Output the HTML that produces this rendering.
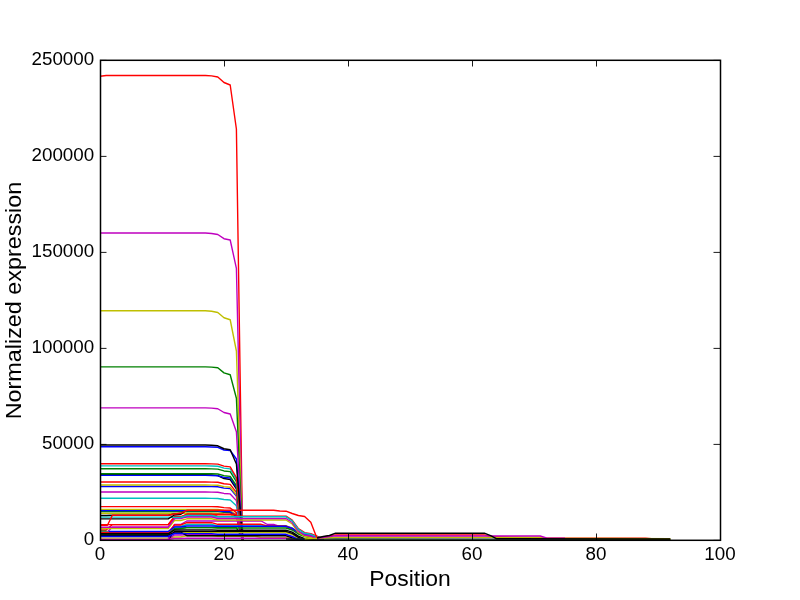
<!DOCTYPE html>
<html><head><meta charset="utf-8"><style>
html,body{margin:0;padding:0;background:#fff;width:800px;height:600px;overflow:hidden}
svg{display:block;will-change:transform}
text{font-family:"Liberation Sans",sans-serif;fill:#000}
</style></head><body>
<svg width="800" height="600" viewBox="0 0 800 600">
<rect width="800" height="600" fill="#fff"/>
<g clip-path="url(#c)">
<clipPath id="c"><rect x="100" y="60" width="620" height="480"/></clipPath>
<polyline points="100.00,474.60 205.40,474.60 211.60,474.89 217.80,475.58 224.00,478.52 230.20,479.50 236.40,488.99 242.60,539.50" stroke="#000000" stroke-width="1.39" fill="none" stroke-linejoin="round"/>
<polyline points="100.00,513.20 205.40,513.20 211.60,513.24 217.80,513.33 224.00,514.00 230.20,514.27 236.40,518.02 242.60,539.50" stroke="#bfbf00" stroke-width="1.39" fill="none" stroke-linejoin="round"/>
<polyline points="100.00,511.50 205.40,511.50 211.60,511.54 217.80,511.64 224.00,512.36 230.20,512.64 236.40,516.63 242.60,539.50" stroke="#008000" stroke-width="1.39" fill="none" stroke-linejoin="round"/>
<polyline points="100.00,509.40 205.40,509.40 211.60,509.45 217.80,509.55 224.00,510.32 230.20,510.62 236.40,514.91 242.60,539.50" stroke="#bfbf00" stroke-width="1.39" fill="none" stroke-linejoin="round"/>
<polyline points="100.00,510.60 205.40,510.60 211.60,510.64 217.80,510.75 224.00,511.48 230.20,511.78 236.40,515.89 242.60,539.50" stroke="#0000ff" stroke-width="1.39" fill="none" stroke-linejoin="round"/>
<polyline points="100.00,506.60 205.40,506.60 211.60,506.65 217.80,506.77 224.00,507.60 230.20,507.94 236.40,512.61 242.60,539.50" stroke="#ff0000" stroke-width="1.39" fill="none" stroke-linejoin="round"/>
<polyline points="100.00,498.30 205.40,498.30 211.60,498.36 217.80,498.51 224.00,499.55 230.20,499.97 236.40,505.81 242.60,539.50" stroke="#00bfbf" stroke-width="1.39" fill="none" stroke-linejoin="round"/>
<polyline points="100.00,492.00 205.40,492.00 211.60,492.07 217.80,492.24 224.00,493.44 230.20,493.92 236.40,500.64 242.60,539.50" stroke="#bf00bf" stroke-width="1.39" fill="none" stroke-linejoin="round"/>
<polyline points="100.00,486.50 205.40,486.50 211.60,486.58 217.80,486.77 224.00,488.11 230.20,488.64 236.40,496.13 242.60,539.50" stroke="#0000ff" stroke-width="1.39" fill="none" stroke-linejoin="round"/>
<polyline points="100.00,485.00 205.40,485.00 211.60,485.08 217.80,485.27 224.00,486.65 230.20,487.20 236.40,494.90 242.60,539.50" stroke="#bfbf00" stroke-width="1.39" fill="none" stroke-linejoin="round"/>
<polyline points="100.00,482.00 205.40,482.00 211.60,482.09 217.80,482.29 224.00,483.74 230.20,484.32 236.40,492.44 242.60,539.50" stroke="#ff0000" stroke-width="1.39" fill="none" stroke-linejoin="round"/>
<polyline points="100.00,475.40 205.40,475.40 211.60,475.50 217.80,475.72 224.00,477.34 230.20,477.98 236.40,487.03 242.60,539.50" stroke="#0000ff" stroke-width="1.39" fill="none" stroke-linejoin="round"/>
<polyline points="100.00,473.70 205.40,473.70 211.60,473.80 217.80,474.03 224.00,475.69 230.20,476.35 236.40,485.63 242.60,539.50" stroke="#008000" stroke-width="1.39" fill="none" stroke-linejoin="round"/>
<polyline points="100.00,468.80 205.40,468.80 211.60,468.91 217.80,469.16 224.00,470.94 230.20,471.65 236.40,481.62 242.60,539.50" stroke="#008000" stroke-width="1.39" fill="none" stroke-linejoin="round"/>
<polyline points="100.00,465.90 205.40,465.90 211.60,466.01 217.80,466.27 224.00,468.12 230.20,468.86 236.40,479.24 242.60,539.50" stroke="#00bfbf" stroke-width="1.39" fill="none" stroke-linejoin="round"/>
<polyline points="100.00,463.80 205.40,463.80 211.60,463.91 217.80,464.18 224.00,466.09 230.20,466.85 236.40,477.52 242.60,539.50" stroke="#ff0000" stroke-width="1.39" fill="none" stroke-linejoin="round"/>
<polyline points="100.00,76.20 106.20,75.50 205.40,75.50 211.60,75.90 217.80,77.00 224.00,82.50 230.20,85.00 236.40,129.00 242.60,539.50" stroke="#ff0000" stroke-width="1.39" fill="none" stroke-linejoin="round"/>
<polyline points="100.00,233.00 205.40,233.00 211.60,233.45 217.80,234.50 224.00,238.70 230.20,240.00 236.40,268.30 242.60,539.50" stroke="#bf00bf" stroke-width="1.39" fill="none" stroke-linejoin="round"/>
<polyline points="100.00,310.70 205.40,310.70 211.60,311.24 217.80,312.50 224.00,317.75 230.20,319.75 236.40,351.00 242.60,539.50" stroke="#bfbf00" stroke-width="1.39" fill="none" stroke-linejoin="round"/>
<polyline points="100.00,366.90 205.40,366.90 211.60,367.14 217.80,367.70 224.00,372.90 230.20,374.75 236.40,398.30 242.60,539.50" stroke="#008000" stroke-width="1.39" fill="none" stroke-linejoin="round"/>
<polyline points="100.00,407.90 205.40,407.90 211.60,408.15 217.80,408.75 224.00,412.50 230.20,414.00 236.40,431.70 242.60,539.50" stroke="#bf00bf" stroke-width="1.39" fill="none" stroke-linejoin="round"/>
<polyline points="100.00,446.80 205.40,446.80 211.60,446.95 217.80,447.30 224.00,450.00 230.20,450.50 236.40,459.00 242.60,539.50" stroke="#0000ff" stroke-width="1.39" fill="none" stroke-linejoin="round"/>
<polyline points="100.00,445.00 205.40,445.00 211.60,445.24 217.80,445.80 224.00,448.75 230.20,449.80 236.40,464.00 242.60,539.50" stroke="#000000" stroke-width="1.39" fill="none" stroke-linejoin="round"/>
<polyline points="100.00,530.00 106.20,530.00 112.40,524.60 168.20,524.60 174.40,516.80 180.60,516.80 186.80,514.30 236.40,514.30 242.60,539.50" stroke="#ff0000" stroke-width="1.39" fill="none" stroke-linejoin="round"/>
<polyline points="100.00,531.30 106.20,531.30 112.40,534.40 168.20,534.40 174.40,529.00 186.80,527.60 236.40,527.60 242.60,539.50" stroke="#008000" stroke-width="1.39" fill="none" stroke-linejoin="round"/>
<polyline points="100.00,532.70 106.20,532.70 112.40,527.20 168.20,527.20 174.40,518.50 186.80,516.80 236.40,516.80 242.60,539.50" stroke="#bf00bf" stroke-width="1.39" fill="none" stroke-linejoin="round"/>
<polyline points="100.00,538.10 168.20,538.10 174.40,532.00 180.60,532.00 186.80,532.20 211.60,532.20 217.80,532.50 286.00,532.50 292.20,534.50 298.40,538.50 304.60,539.50 310.80,539.50 317.00,539.50 323.20,539.50" stroke="#bfbf00" stroke-width="1.39" fill="none" stroke-linejoin="round"/>
<polyline points="100.00,539.60 168.20,539.60 174.40,537.00 180.60,537.00 186.80,535.70 211.60,535.70 217.80,536.20 255.00,536.20 261.20,537.50 286.00,537.50 292.20,538.30 298.40,539.00 304.60,539.50" stroke="#bfbf00" stroke-width="1.39" fill="none" stroke-linejoin="round"/>
<polyline points="100.00,539.60 168.20,539.60 174.40,535.00 180.60,535.00 186.80,534.60 211.60,534.60 217.80,535.00 286.00,535.00 292.20,537.00 298.40,539.50 304.60,539.50 310.80,539.50 317.00,539.50 323.20,539.50" stroke="#bf00bf" stroke-width="1.39" fill="none" stroke-linejoin="round"/>
<polyline points="100.00,539.60 168.20,539.60 174.40,531.50 180.60,531.50 186.80,531.30 211.60,531.30 217.80,531.40 286.00,531.40 292.20,533.40 298.40,537.40 304.60,539.50 310.80,539.50 317.00,539.50 323.20,539.50" stroke="#000000" stroke-width="1.39" fill="none" stroke-linejoin="round"/>
<polyline points="100.00,532.00 168.20,532.00 174.40,526.50 180.60,526.50 186.80,524.50 211.60,524.50 217.80,526.00 286.00,526.00 292.20,528.00 298.40,532.00 304.60,534.50 310.80,535.50 317.00,537.00 323.20,538.00" stroke="#00bfbf" stroke-width="1.39" fill="none" stroke-linejoin="round"/>
<polyline points="100.00,539.60 168.20,539.60 174.40,524.50 180.60,524.50 186.80,521.00 211.60,521.00 217.80,521.00 261.20,521.00 267.40,524.50 273.60,524.50 279.80,526.30 286.00,526.50 292.20,528.50 298.40,532.00 304.60,534.50 310.80,535.50 317.00,538.00" stroke="#bf00bf" stroke-width="1.39" fill="none" stroke-linejoin="round"/>
<polyline points="100.00,532.50 168.20,532.50 174.40,525.00 180.60,525.00 186.80,522.70 211.60,522.70 217.80,524.30 261.20,524.30 267.40,526.00 286.00,526.00 292.20,529.00 298.40,533.00 304.60,536.00 310.80,537.50 317.00,539.50" stroke="#ff0000" stroke-width="1.39" fill="none" stroke-linejoin="round"/>
<polyline points="100.00,539.40 168.20,539.40 174.40,538.50 180.60,538.50 186.80,538.30 211.60,538.30 217.80,538.30 286.00,538.30 292.20,539.50 298.40,539.50 304.60,539.50 310.80,539.50 317.00,539.50 323.20,539.50" stroke="#bf00bf" stroke-width="1.39" fill="none" stroke-linejoin="round"/>
<polyline points="100.00,534.60 168.20,534.60 174.40,528.50 180.60,528.50 186.80,527.60 211.60,527.60 217.80,528.00 286.00,528.00 292.20,530.00 298.40,534.00 304.60,536.50 310.80,537.50 317.00,539.00 323.20,539.50" stroke="#008000" stroke-width="1.39" fill="none" stroke-linejoin="round"/>
<polyline points="100.00,535.30 168.20,535.30 174.40,532.00 180.60,532.00 186.80,535.70 211.60,535.70 217.80,535.80 286.00,535.80 292.20,537.80 298.40,539.50 304.60,539.50 310.80,539.50 317.00,539.50 323.20,539.50" stroke="#000000" stroke-width="1.39" fill="none" stroke-linejoin="round"/>
<polyline points="100.00,536.50 168.20,536.50 174.40,533.50 180.60,533.50 186.80,533.60 211.60,533.60 217.80,534.30 286.00,534.30 292.20,536.30 298.40,539.50 304.60,539.50 310.80,539.50 317.00,539.50 323.20,539.50" stroke="#0000ff" stroke-width="1.39" fill="none" stroke-linejoin="round"/>
<polyline points="100.00,533.80 168.20,533.80 174.40,530.00 180.60,530.00 186.80,529.90 211.60,529.90 217.80,530.20 286.00,530.20 292.20,532.20 298.40,536.20 304.60,538.70 310.80,539.50 317.00,539.50 323.20,539.50" stroke="#000000" stroke-width="1.39" fill="none" stroke-linejoin="round"/>
<polyline points="108.68,531.50 168.20,531.50 174.40,527.00 180.60,527.00 186.80,526.00 211.60,526.00 217.80,526.30 286.00,526.30 292.20,528.30 298.40,532.30 304.60,534.80 310.80,535.80 317.00,537.30 323.20,538.30" stroke="#0000ff" stroke-width="1.39" fill="none" stroke-linejoin="round"/>
<polyline points="100.00,528.60 168.20,528.60 174.40,520.50 180.60,520.50 186.80,518.80 211.60,518.80 217.80,520.00 286.00,520.00 292.20,524.00 298.40,532.50 304.60,536.50 310.80,537.50 317.00,539.50 323.20,539.50" stroke="#bfbf00" stroke-width="1.39" fill="none" stroke-linejoin="round"/>
<polyline points="100.00,527.20 168.20,527.20 174.40,518.50 180.60,518.50 186.80,516.80 211.60,516.80 217.80,518.50 286.00,518.50 292.20,522.50 298.40,531.00 304.60,535.00 310.80,536.00 317.00,538.50 323.20,539.50" stroke="#bf00bf" stroke-width="1.39" fill="none" stroke-linejoin="round"/>
<polyline points="100.00,524.60 168.20,524.60 174.40,516.80 180.60,516.80 186.80,514.30 211.60,514.30 217.80,516.20 286.00,516.20 292.20,520.20 298.40,528.70 304.60,532.70 310.80,533.70 317.00,536.20 323.20,539.20" stroke="#ff0000" stroke-width="1.39" fill="none" stroke-linejoin="round"/>
<polyline points="100.00,517.10 168.20,517.10 174.40,517.50 180.60,517.50 186.80,515.50 211.60,515.50 217.80,516.80 286.00,516.80 292.20,520.80 298.40,529.30 304.60,533.30 310.80,534.30 317.00,536.80 323.20,539.50" stroke="#00bfbf" stroke-width="1.39" fill="none" stroke-linejoin="round"/>
<polyline points="100.00,518.90 168.20,518.90 174.40,515.00 180.60,514.50 184.32,512.00" stroke="#000000" stroke-width="1.39" fill="none" stroke-linejoin="round"/>
<polyline points="100.00,515.50 106.20,515.50 112.40,515.30 168.20,515.30 174.40,514.00 180.60,513.50" stroke="#000000" stroke-width="1.39" fill="none" stroke-linejoin="round"/>
<polyline points="100.00,525.30 107.44,525.30 112.40,515.30 168.20,515.30 174.40,514.00 180.60,513.30 186.80,510.30 273.60,510.30 279.80,511.00 286.00,511.20 292.20,513.50 298.40,515.50 304.60,516.50 310.80,522.20 317.00,538.30 323.20,537.00 335.60,534.90 484.40,534.90 490.60,536.50 509.20,537.20 546.40,538.30 645.60,538.30 651.80,538.80" stroke="#ff0000" stroke-width="1.39" fill="none" stroke-linejoin="round"/>
<polyline points="286.00,539.00 670.40,539.20" stroke="#0a2a1a" stroke-width="1.39" fill="none" stroke-linejoin="round"/>
<polyline points="304.60,539.00 335.60,537.30 540.20,537.30 546.40,538.30 670.40,538.80" stroke="#bfbf00" stroke-width="1.39" fill="none" stroke-linejoin="round"/>
<polyline points="317.00,538.30 335.60,535.80 540.20,536.00 546.40,538.00 565.00,538.30" stroke="#bf00bf" stroke-width="1.39" fill="none" stroke-linejoin="round"/>
<polyline points="317.00,538.00 323.20,536.50 329.40,535.50 335.60,533.20 484.40,533.20 490.60,535.60 496.80,538.80 670.40,539.00" stroke="#000000" stroke-width="1.39" fill="none" stroke-linejoin="round"/>
</g>
<g stroke="#000" stroke-width="0.9"><line x1="100.5" y1="540" x2="100.5" y2="533.5"/><line x1="100.5" y1="60" x2="100.5" y2="66.5"/><line x1="224.5" y1="540" x2="224.5" y2="533.5"/><line x1="224.5" y1="60" x2="224.5" y2="66.5"/><line x1="348.5" y1="540" x2="348.5" y2="533.5"/><line x1="348.5" y1="60" x2="348.5" y2="66.5"/><line x1="472.5" y1="540" x2="472.5" y2="533.5"/><line x1="472.5" y1="60" x2="472.5" y2="66.5"/><line x1="596.5" y1="540" x2="596.5" y2="533.5"/><line x1="596.5" y1="60" x2="596.5" y2="66.5"/><line x1="720.5" y1="540" x2="720.5" y2="533.5"/><line x1="720.5" y1="60" x2="720.5" y2="66.5"/><line x1="100" y1="540.4" x2="106.5" y2="540.4"/><line x1="720" y1="540.4" x2="713.5" y2="540.4"/><line x1="100" y1="444.4" x2="106.5" y2="444.4"/><line x1="720" y1="444.4" x2="713.5" y2="444.4"/><line x1="100" y1="348.4" x2="106.5" y2="348.4"/><line x1="720" y1="348.4" x2="713.5" y2="348.4"/><line x1="100" y1="252.4" x2="106.5" y2="252.4"/><line x1="720" y1="252.4" x2="713.5" y2="252.4"/><line x1="100" y1="156.4" x2="106.5" y2="156.4"/><line x1="720" y1="156.4" x2="713.5" y2="156.4"/><line x1="100" y1="60.4" x2="106.5" y2="60.4"/><line x1="720" y1="60.4" x2="713.5" y2="60.4"/></g>
<rect x="100.5" y="60.3" width="620" height="480" fill="none" stroke="#000" stroke-width="1.5"/>
<g font-size="18.8"><text x="100.0" y="560" text-anchor="middle">0</text><text x="224.0" y="560" text-anchor="middle">20</text><text x="348.0" y="560" text-anchor="middle">40</text><text x="472.0" y="560" text-anchor="middle">60</text><text x="596.0" y="560" text-anchor="middle">80</text><text x="720.0" y="560" text-anchor="middle">100</text><text x="94.2" y="545.0" text-anchor="end">0</text><text x="94.2" y="449.0" text-anchor="end">50000</text><text x="94.2" y="353.0" text-anchor="end">100000</text><text x="94.2" y="257.0" text-anchor="end">150000</text><text x="94.2" y="161.0" text-anchor="end">200000</text><text x="94.2" y="65.0" text-anchor="end">250000</text></g>
<text x="410" y="586" font-size="22" text-anchor="middle" textLength="81.5" lengthAdjust="spacingAndGlyphs">Position</text>
<text transform="translate(21,300.5) rotate(-90)" x="0" y="0" font-size="22.6" text-anchor="middle" textLength="237.5" lengthAdjust="spacingAndGlyphs">Normalized expression</text>
</svg>
</body></html>
